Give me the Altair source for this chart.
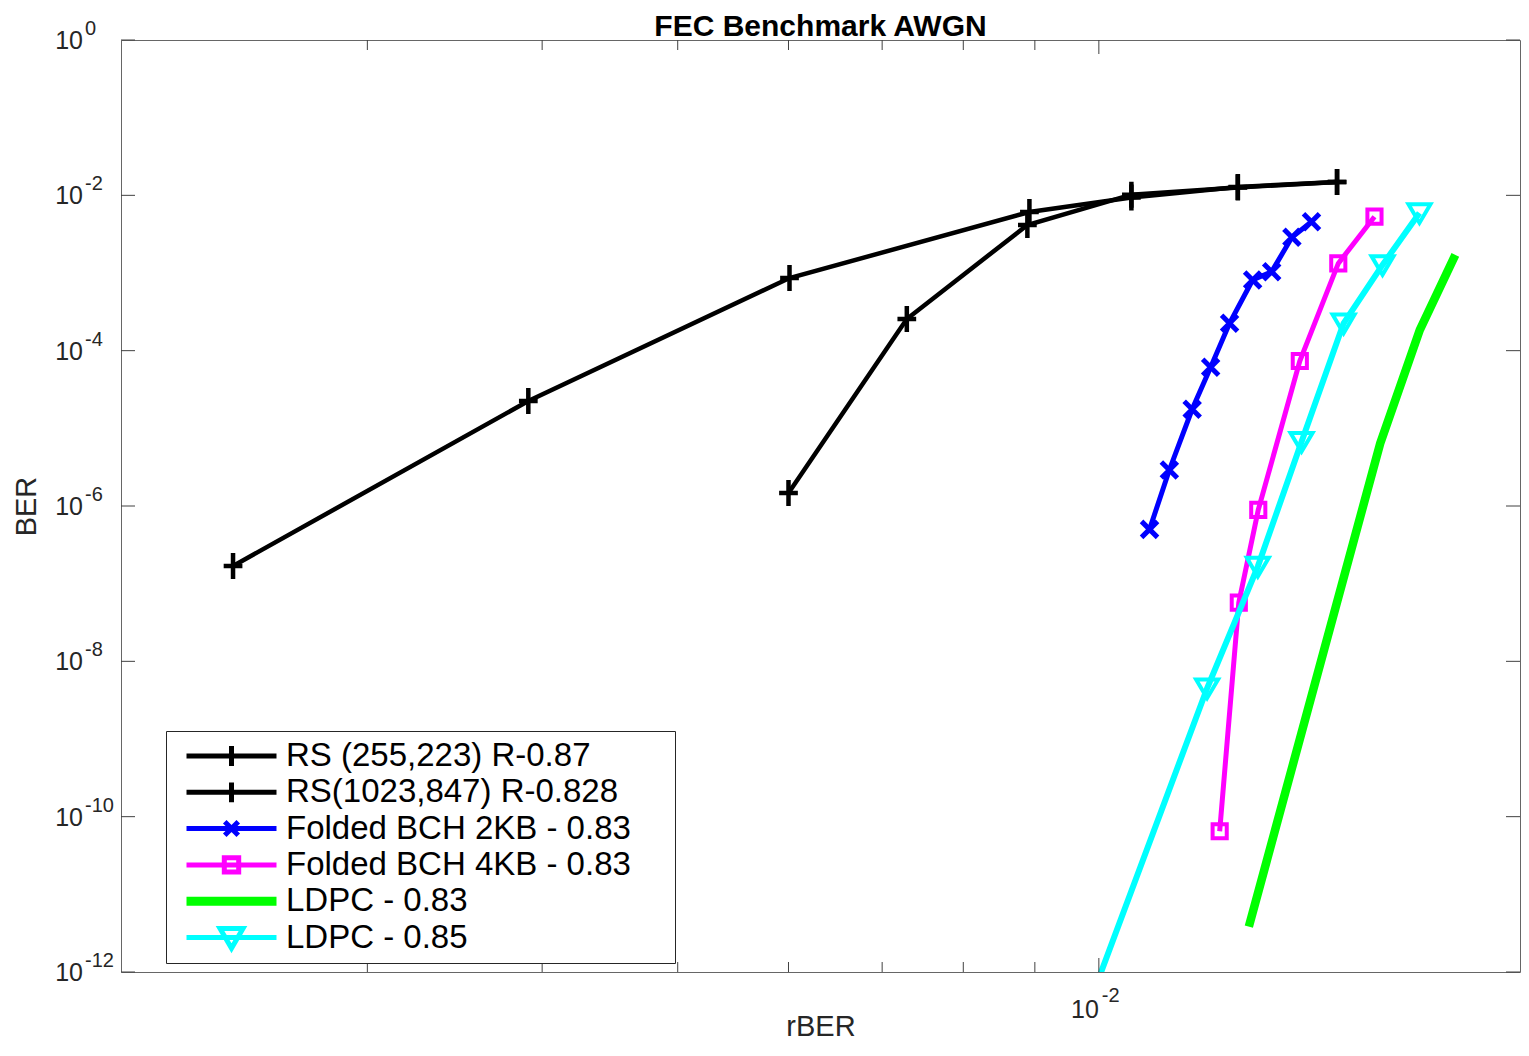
import altair as alt
import pandas as pd

FONT = "Liberation Sans, Arial, Helvetica, sans-serif"
INK = "#262626"

# ---------------- data ----------------
chart_title = ["FEC Benchmark AWGN"]

series_names = [
    "RS (255,223) R-0.87",
    "RS(1023,847) R-0.828",
    "Folded BCH 2KB - 0.83",
    "Folded BCH 4KB - 0.83",
    "LDPC - 0.83",
    "LDPC - 0.85",
]
series_colors = ["#000000", "#000000", "#0000FF", "#FF00FF", "#00FF00", "#00FFFF"]

rs255_x = [2.405e-3, 3.91e-3, 6.01e-3, 8.92e-3, 1.055e-2, 1.257e-2, 1.48e-2]
rs255_y = [1.69e-7, 2.25e-5, 8.6e-4, 6.1e-3, 9.35e-3, 1.28e-2, 1.49e-2]

rs1023_x = [6.0e-3, 7.29e-3, 8.89e-3, 1.055e-2, 1.257e-2, 1.48e-2]
rs1023_y = [1.47e-6, 2.56e-4, 4.15e-3, 1.02e-2, 1.26e-2, 1.49e-2]

bch2_x = [1.087e-2, 1.123e-2, 1.166e-2, 1.202e-2, 1.24e-2, 1.288e-2, 1.329e-2, 1.374e-2, 1.419e-2]
bch2_y = [5.0e-7, 2.91e-6, 1.76e-5, 6.1e-5, 2.25e-4, 8.13e-4, 1.04e-3, 2.88e-3, 4.58e-3]

bch4_x = [1.22e-2, 1.259e-2, 1.30e-2, 1.392e-2, 1.483e-2, 1.574e-2]
bch4_y = [6.5e-11, 5.7e-8, 8.9e-7, 7.37e-5, 1.33e-3, 5.31e-3]

ldpc83_x = [1.28e-2, 1.589e-2, 1.696e-2, 1.798e-2]
ldpc83_y = [3.84e-12, 6.42e-6, 1.85e-4, 1.71e-3]

ldpc85_x = [9.57e-3, 1.195e-2, 1.299e-2, 1.396e-2, 1.496e-2, 1.595e-2, 1.695e-2]
ldpc85_y = [1.0e-13, 4.5e-9, 1.66e-7, 6.73e-6, 2.25e-4, 1.27e-3, 5.92e-3]
ldpc85_marker = [False, True, True, True, True, True, True]

# axis ticks / labels
y_tick_vals = [1.0, 1e-2, 1e-4, 1e-6, 1e-8, 1e-10, 1e-12]
y_tick_exps = ["0", "-2", "-4", "-6", "-8", "-10", "-12"]
x_major_vals = [1e-2]
x_major_exps = ["-2"]
x_minor_vals = [3e-3, 4e-3, 5e-3, 6e-3, 7e-3, 8e-3, 9e-3]

# ---------------- styling ----------------
W, H = 1399, 932
PLUS = "M-0.72,0H0.72M0,-1V1"
CROSS = "M-1,-1L1,1M-1,1L1,-1"
SQUARE = "M-1,-1H1V1H-1Z"
TRI = "M-1,-0.8H1L0,0.9Z"

legend_paths = [
    "M-1,0H1M0,-0.22V0.22",
    "M-1,0H1M0,-0.22V0.22",
    "M-1,0H1M-0.15,-0.15L0.15,0.15M-0.15,0.15L0.15,-0.15",
    "M-1,0H1M-0.16,-0.16H0.16V0.16H-0.16Z",
    "M-1,-0.045H1M-1,0H1M-1,0.045H1",
    "M-1,0H1M-0.255,-0.2H0.255L0,0.24Z",
]

xscale = alt.Scale(type="log", domain=[0.002, 0.02], nice=False)
yscale = alt.Scale(type="log", domain=[1e-12, 1.0], nice=False)

X_AXIS = alt.Axis(title="rBER", labels=False, ticks=False, domain=False, grid=False,
                  titleFont=FONT, titleFontSize=29, titleFontWeight="normal",
                  titleColor=INK, titlePadding=40, minExtent=0)
Y_AXIS = alt.Axis(title="BER", labels=False, ticks=False, domain=False, grid=False,
                  titleFont=FONT, titleFontSize=29, titleFontWeight="normal",
                  titleColor=INK, titlePadding=80, minExtent=0)


def xenc(f):
    return alt.X(f, type="quantitative", scale=xscale, axis=X_AXIS)


def yenc(f):
    return alt.Y(f, type="quantitative", scale=yscale, axis=Y_AXIS)


series_spec = [
    (rs255_x, rs255_y, None, "#000000", 4.5, PLUS, 676, 4.5),
    (rs1023_x, rs1023_y, None, "#000000", 4.5, PLUS, 676, 4.5),
    (bch2_x, bch2_y, None, "#0000FF", 5, CROSS, 256, 5),
    (bch4_x, bch4_y, None, "#FF00FF", 5, SQUARE, 200, 4),
    (ldpc83_x, ldpc83_y, None, "#00FF00", 8.5, None, 0, 0),
    (ldpc85_x, ldpc85_y, ldpc85_marker, "#00FFFF", 6, TRI, 484, 4),
]

layers = []
for name, (xs, ys, flags, col, lw, mpath, msize, msw) in zip(series_names, series_spec):
    df = pd.DataFrame({
        "rBER": xs, "BER": ys, "idx": list(range(len(xs))),
        "marker": flags if flags is not None else [True] * len(xs),
        "series": [name] * len(xs),
    })
    base = alt.Chart(df).encode(x=xenc("rBER"), y=yenc("BER"), order=alt.Order("idx:Q"))
    layers.append(base.mark_line(color=col, strokeWidth=lw, clip=True))
    if mpath:
        layers.append(
            base.transform_filter("datum.marker").mark_point(
                shape=mpath, size=msize, filled=False, color=col,
                strokeWidth=msw, opacity=1, clip=True)
        )

# inward ticks on all four sides (MATLAB box style)
ytick_df = pd.DataFrame({"v": y_tick_vals, "base": ["10"] * len(y_tick_vals), "exp": y_tick_exps})
xmaj_df = pd.DataFrame({"v": x_major_vals, "base": ["10"] * len(x_major_vals), "exp": x_major_exps})
xmin_df = pd.DataFrame({"v": x_minor_vals})

TICK = dict(color="#404040", strokeWidth=1)
layers += [
    alt.Chart(ytick_df).mark_rule(**TICK).encode(y=yenc("v"), x=alt.value(0), x2=alt.value(14)),
    alt.Chart(ytick_df).mark_rule(**TICK).encode(y=yenc("v"), x=alt.value(W - 14), x2=alt.value(W)),
    alt.Chart(xmaj_df).mark_rule(**TICK).encode(x=xenc("v"), y=alt.value(H), y2=alt.value(H - 14)),
    alt.Chart(xmaj_df).mark_rule(**TICK).encode(x=xenc("v"), y=alt.value(0), y2=alt.value(14)),
    alt.Chart(xmin_df).mark_rule(**TICK).encode(x=xenc("v"), y=alt.value(H), y2=alt.value(H - 10)),
    alt.Chart(xmin_df).mark_rule(**TICK).encode(x=xenc("v"), y=alt.value(0), y2=alt.value(10)),
]

# tick labels 10^n
layers += [
    alt.Chart(ytick_df).mark_text(align="right", baseline="alphabetic", dy=9,
                                  fontSize=25, font=FONT, color=INK)
    .encode(y=yenc("v"), x=alt.value(-38), text="base:N"),
    alt.Chart(ytick_df).mark_text(align="left", baseline="alphabetic", dy=-5,
                                  fontSize=20, font=FONT, color=INK)
    .encode(y=yenc("v"), x=alt.value(-36), text="exp:N"),
    alt.Chart(xmaj_df).mark_text(align="right", baseline="alphabetic",
                                 fontSize=25, font=FONT, color=INK)
    .encode(x=xenc("v"), y=alt.value(H + 46), text="base:N"),
    alt.Chart(xmaj_df).mark_text(align="left", baseline="alphabetic", dx=3,
                                 fontSize=20, font=FONT, color=INK)
    .encode(x=xenc("v"), y=alt.value(H + 30), text="exp:N"),
]

# chart title as text above the plot
title_df = pd.DataFrame({"t": chart_title})
layers.append(
    alt.Chart(title_df).mark_text(align="center", baseline="alphabetic", fontSize=30,
                                  fontWeight="bold", font=FONT, color="black")
    .encode(x=alt.value(W / 2), y=alt.value(-4), text="t:N")
)

# legend (MATLAB style: line sample with marker)
LEG = alt.Legend(
    title=None, orient="none", legendX=45, legendY=691,
    fillColor="white", strokeColor=INK, padding=7,
    symbolSize=8100, symbolStrokeWidth=5, symbolOffset=11,
    labelFont=FONT, labelFontSize=33, labelColor="black", labelOffset=7,
    labelExpr="datum.label + '    \u200b'", labelLimit=0,
    clipHeight=36, rowPadding=0.3,
)
legend_df = pd.DataFrame({"series": series_names})
layers.append(
    alt.Chart(legend_df).transform_filter("false").mark_point(filled=False, opacity=1, strokeWidth=5)
    .encode(
        color=alt.Color("series:N", scale=alt.Scale(domain=series_names, range=series_colors), legend=LEG),
        shape=alt.Shape("series:N", scale=alt.Scale(domain=series_names, range=legend_paths), legend=LEG),
    )
)

chart = alt.layer(*layers).properties(
    width=W, height=H,
    padding={"left": 113, "top": 32, "right": 1, "bottom": 68},
    autosize=alt.AutoSizeParams(type="none"),
).configure_view(stroke="#666666", strokeWidth=1)

chart.save("out.html", embed_options={"renderer": "svg", "actions": False})
